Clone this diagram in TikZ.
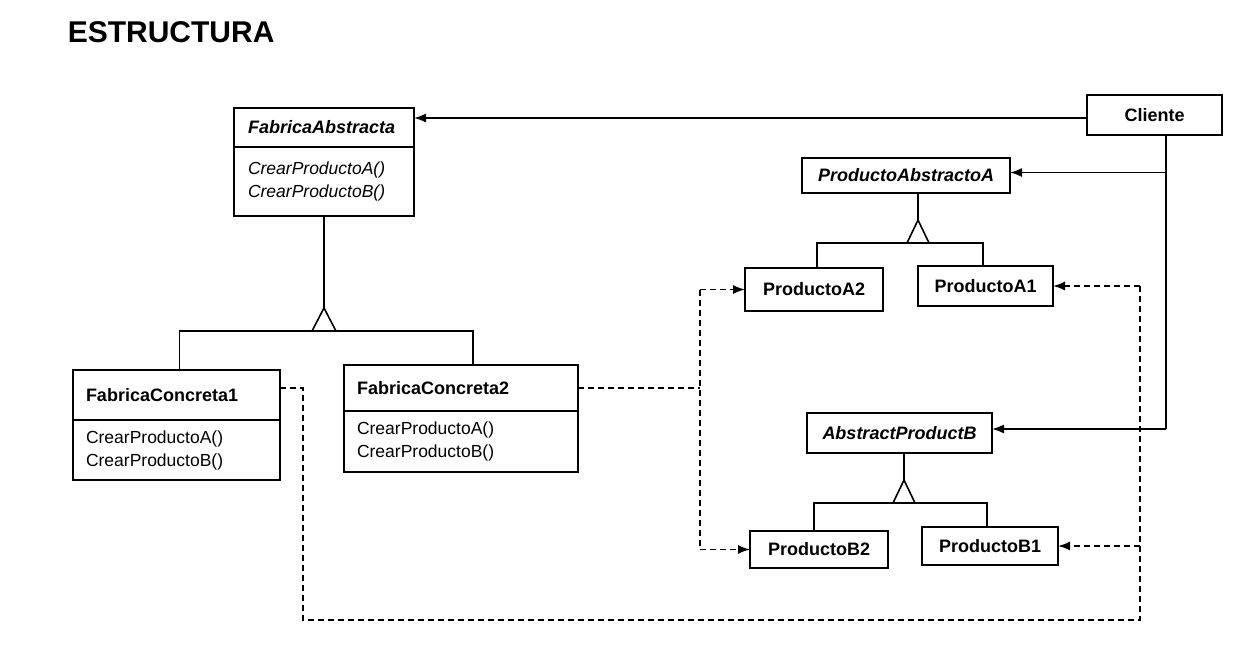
\documentclass[tikz,border=0pt]{standalone}
\usepackage{fontspec}
\setmainfont{Liberation Sans}
\usetikzlibrary{arrows.meta}
\begin{document}
\begin{tikzpicture}[x=1pt,y=-1pt,line width=1.6pt,
  box/.style={draw, line width=1.7pt, inner sep=0pt, outer sep=0pt, fill=white},
  nmfont/.style={font=\fontsize{18}{22}\selectfont\bfseries},
  absfont/.style={font=\fontsize{18}{22}\selectfont\bfseries\itshape},
  opfont/.style={font=\fontsize{17.5}{23}\selectfont},
  opitfont/.style={font=\fontsize{17.5}{23}\selectfont\itshape},
  arr/.style={-{Latex[length=12pt,width=9pt]}},
  dsh/.style={line width=1.5pt, dash pattern=on 6pt off 4pt}
]
\useasboundingbox (0,0) rectangle (1244,670);

% title
\node[anchor=base west, inner sep=0pt, font=\fontsize{30}{34}\selectfont\bfseries] (title) at (67,42) {ESTRUCTURA};

% FabricaAbstracta
\node[box, absfont, anchor=north west, minimum width=180pt, minimum height=39pt, text width=152pt, align=left] (fah) at (234,108) {FabricaAbstracta};
\node[box, opitfont, anchor=north, minimum width=180pt, minimum height=69pt, text width=152pt, align=left] (fab) at (fah.south) {CrearProductoA()\\CrearProductoB()};

% FabricaConcreta1
\node[box, nmfont, anchor=north west, minimum width=207pt, minimum height=50pt, text width=181pt, align=left] (fc1h) at (73,370) {FabricaConcreta1};
\node[box, opfont, anchor=north, minimum width=207pt, minimum height=60pt, text width=181pt, align=left] (fc1b) at (fc1h.south) {CrearProductoA()\\CrearProductoB()};

% FabricaConcreta2
\node[box, nmfont, anchor=north west, minimum width=234pt, minimum height=46pt, text width=208pt, align=left] (fc2h) at (344,365) {FabricaConcreta2};
\node[box, opfont, anchor=north, minimum width=234pt, minimum height=61pt, text width=208pt, align=left] (fc2b) at (fc2h.south) {CrearProductoA()\\CrearProductoB()};

% Cliente and products
\node[box, nmfont, minimum width=135pt, minimum height=40pt] (cli) at (1154.5,115) {Cliente};
\node[box, absfont, minimum width=208pt, minimum height=35pt] (paa) at (906,175.5) {ProductoAbstractoA};
\node[box, nmfont, minimum width=138pt, minimum height=43pt] (pa2) at (814,289.5) {ProductoA2};
\node[box, nmfont, minimum width=135pt, minimum height=40pt] (pa1) at (985.5,286) {ProductoA1};
\node[box, absfont, minimum width=185pt, minimum height=40pt] (apb) at (899.5,433) {AbstractProductB};
\node[box, nmfont, minimum width=138pt, minimum height=37pt] (pb2) at (819,549.5) {ProductoB2};
\node[box, nmfont, minimum width=136pt, minimum height=38pt] (pb1) at (990,546) {ProductoB1};

% inheritance: factories
\coordinate (faApex) at (324,308);
\coordinate (faBase) at (324,331);
\draw (fab.south) -- (faApex);
\draw[fill=white] (faApex) -- ++(12,23) -- ++(-24,0) -- cycle;
\draw ([xshift=3pt]fc1h.north) |- (faBase) -| ([xshift=12pt]fc2h.north);

% inheritance: products A
\coordinate (paApex) at (918,220);
\coordinate (paBase) at (918,243);
\draw (paApex |- paa.south) -- (paApex);
\draw[fill=white] (paApex) -- ++(11,23) -- ++(-22,0) -- cycle;
\draw ([xshift=3pt]pa2.north) |- (paBase) -| ([xshift=-2.5pt]pa1.north);

% inheritance: products B
\coordinate (pbApex) at (904,480);
\coordinate (pbBase) at (904,503);
\draw (pbApex |- apb.south) -- (pbApex);
\draw[fill=white] (pbApex) -- ++(11,23) -- ++(-22,0) -- cycle;
\draw ([xshift=-5pt]pb2.north) |- (pbBase) -| ([xshift=-3pt]pb1.north);

% client associations
\coordinate (cliX) at (1166,0);
\coordinate (cliBr) at ([yshift=4pt]apb.east -| cliX);
\draw[arr] ([yshift=-3pt]cli.west) -- ([yshift=-3pt]cli.west -| fah.east);
\draw (cli.south -| cliX) -- (cliBr);
\draw[arr] ([yshift=3pt]paa.east -| cliX) -- ([yshift=3pt]paa.east);
\draw[arr] (cliBr) -- ([yshift=4pt]apb.east);

% dependencies of FabricaConcreta2
\coordinate (dA) at (700,0);
\draw[dsh] (fc2h.east) -- (fc2h.east -| dA);
\draw[dsh] (pa2.west -| dA) -- (pb2.west -| dA);
\draw[dsh,arr] (pa2.west -| dA) -- (pa2.west);
\draw[dsh,arr] (pb2.west -| dA) -- (pb2.west);

% dependencies of FabricaConcreta1
\coordinate (dB) at (303,0);
\coordinate (dC) at (1140,0);
\coordinate (dBot) at (0,620);
\draw[dsh] ([yshift=7pt]fc1h.east) -- ([yshift=7pt]fc1h.east -| dB) -- (dB |- dBot) -- (dC |- dBot) -- (pa1.east -| dC);
\draw[dsh,arr] (pa1.east -| dC) -- (pa1.east);
\draw[dsh,arr] (pb1.east -| dC) -- (pb1.east);
\end{tikzpicture}
\end{document}
